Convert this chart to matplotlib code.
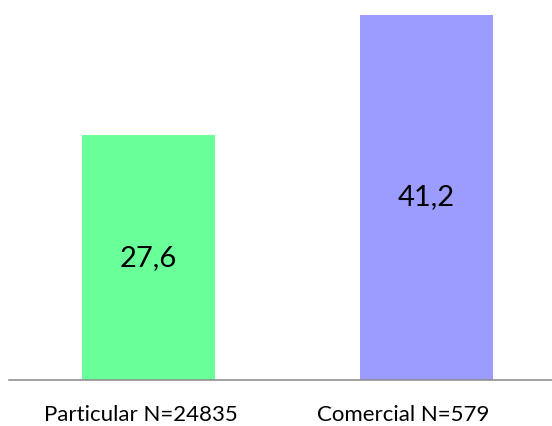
import matplotlib.pyplot as plt

categories = ['Particular N=24835', 'Comercial N=579']
values = [27.6, 41.2]
value_labels = ['27,6', '41,2']
colors = ['#69FF99', '#9C9CFF']

plt.rcParams['font.family'] = ['Lato', 'DejaVu Sans']

fig = plt.figure(figsize=(5.52, 4.26), dpi=100)
ax = fig.add_axes([9 / 552, 46 / 426, 543 / 552, 380 / 426])

x = list(range(len(categories)))
ax.bar(x, values, width=0.478, color=colors)

for i, v in enumerate(values):
    ax.text(x[i], v / 2, value_labels[i], ha='center', va='center', fontsize=21, color='black')

# category labels sit a bit left of the bars in the original
label_x = [-0.029, 0.915]
for i, c in enumerate(categories):
    ax.text(label_x[i], -4.65, c, ha='center', va='baseline', fontsize=16, color='black', clip_on=False)

ax.set_xlim(-0.502, 1.451)
ax.set_ylim(0, 42.85)
for s in ['top', 'left', 'right']:
    ax.spines[s].set_visible(False)
ax.spines['bottom'].set_color('#898989')
ax.spines['bottom'].set_linewidth(1.1)
ax.set_xticks([])
ax.set_yticks([])

fig.savefig('out.png', dpi=100)
